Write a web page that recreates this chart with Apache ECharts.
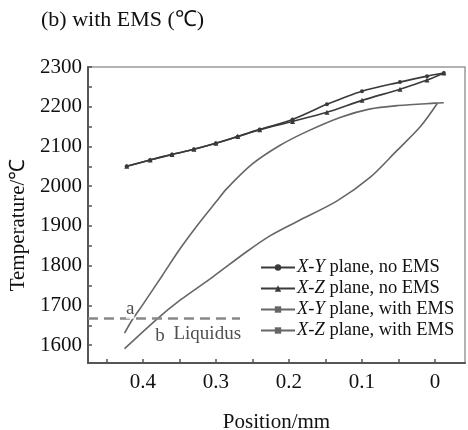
<!DOCTYPE html>
<html><head><meta charset="utf-8">
<script src="https://cdn.jsdelivr.net/npm/echarts@6/dist/echarts.min.js"></script>
<style>html,body{margin:0;padding:0;background:#fff}#c{width:468px;height:430px}</style>
</head><body><div id="c"></div>
<script>
// ---- data (position mm, temperature °C) ----
const xyNoEms = [[0.422,2050],[0.39,2066],[0.36,2080],[0.33,2093],[0.30,2108],[0.27,2125],[0.24,2143],[0.195,2168],[0.148,2206],[0.10,2239],[0.048,2262],[0.011,2277],[-0.012,2285]];
const xzNoEms = [[0.422,2050],[0.39,2066],[0.36,2080],[0.33,2093],[0.30,2108],[0.27,2125],[0.24,2142],[0.195,2163],[0.148,2186],[0.10,2216],[0.048,2244],[0.011,2267],[-0.012,2285]];
const xyEms = [[0.425,1630],[0.414,1665],[0.40,1702],[0.373,1776],[0.35,1840],[0.326,1900],[0.30,1960],[0.285,1994],[0.25,2056],[0.212,2103],[0.175,2138],[0.13,2173],[0.09,2194],[0.05,2203],[0.0,2209],[-0.012,2210]];
const xzEms = [[0.425,1591],[0.381,1665],[0.349,1713],[0.304,1772],[0.258,1835],[0.226,1875],[0.19,1910],[0.134,1963],[0.089,2022],[0.052,2090],[0.02,2150],[-0.003,2208]];
const liquidus = 1667;
const liquidusSpan = [0.475, 0.267];
const xTickLabels = [0, 0.1, 0.2, 0.3, 0.4];
const xTicks = [-0.05, 0, 0.05, 0.1, 0.15, 0.2, 0.25, 0.3, 0.35, 0.4, 0.45];
const yTickLabels = [1600, 1700, 1800, 1900, 2000, 2100, 2200, 2300];
const yTicks = [1600,1650,1700,1750,1800,1850,1900,1950,2000,2050,2100,2150,2200,2250,2300];
const seriesNames = ['X-Y plane, no EMS','X-Z plane, no EMS','X-Y plane, with EMS','X-Z plane, with EMS'];
const notes = [{text:'a', pos:[0.423,1690]}, {text:'b', pos:[0.383,1622]}, {text:'Liquidus', pos:[0.358,1627]}];

const FONT = '"Liberation Serif","Times New Roman",serif';
const chart = echarts.init(document.getElementById('c'));
const dark = '#3a3a3a', gray = '#666';
function lineSeries(name, data, color, symbol, size, show) {
  return { name, type:'line', data, smooth:0.3, symbol, symbolSize:size, showSymbol:show,
    lineStyle:{color, width:1.6}, itemStyle:{color}, z:3 };
}
chart.setOption({
  animation:false,
  title:{ text:'(b) with EMS (℃)', left:36, top:4, textStyle:{fontFamily:FONT, fontSize:22, fontWeight:'normal', color:'#111'} },
  grid:{ left:88, right:3, top:67, bottom:67, outerBoundsMode:'none', show:true, borderColor:'#999', borderWidth:1.5 },
  legend:{ orient:'vertical', left:255, top:253, itemGap:2, itemWidth:34, itemHeight:8,
    data:seriesNames,
    formatter:n=>{ const i=n.indexOf(' '); return '{i|'+n.slice(0,i)+'}'+n.slice(i); },
    textStyle:{fontFamily:FONT, fontSize:18.5, color:'#111', padding:[0,0,0,-3],
      rich:{ i:{fontFamily:FONT, fontSize:18.5, fontStyle:'italic', color:'#111'} } } },
  xAxis:{ type:'value', inverse:true, min:-0.041, max:0.475,
    axisLine:{onZero:false, lineStyle:{color:'#555', width:2}},
    axisTick:{show:true, inside:true, length:4, customValues:xTicks, lineStyle:{color:'#555', width:1.5}},
    axisLabel:{customValues:xTickLabels, fontFamily:FONT, fontSize:21, color:'#111', margin:9},
    splitLine:{show:false},
    name:'Position/mm', nameLocation:'middle', nameGap:49,
    nameTextStyle:{fontFamily:FONT, fontSize:21, color:'#111'} },
  yAxis:{ type:'value', min:1555, max:2300, position:'left',
    axisLine:{show:true, onZero:false, lineStyle:{color:'#555', width:2}},
    axisTick:{show:true, inside:true, length:4, customValues:yTicks, lineStyle:{color:'#555', width:1.5}},
    axisLabel:{customValues:yTickLabels, formatter:v=>String(v), fontFamily:FONT, fontSize:21, color:'#111', margin:6},
    splitLine:{show:false},
    name:'Temperature/℃', nameLocation:'middle', nameGap:56, nameRotate:90,
    nameTextStyle:{fontFamily:FONT, fontSize:21, color:'#111', padding:[0,0,0,-20]} },
  series:[
    lineSeries(seriesNames[0], xyNoEms, dark, 'circle', 4, true),
    lineSeries(seriesNames[1], xzNoEms, dark, 'triangle', 5, true),
    Object.assign(lineSeries(seriesNames[2], xyEms, gray, 'rect', [2,8], false), {
      markLine:{ silent:true, symbol:'none', label:{show:false},
        lineStyle:{color:'#888', type:[10,6], width:2.5},
        data:[[{coord:[liquidusSpan[0], liquidus]},{coord:[liquidusSpan[1], liquidus]}]] } }),
    lineSeries(seriesNames[3], xzEms, gray, 'rect', [2,8], false),
    { type:'scatter', data:notes.map(n=>({value:n.pos, name:n.text})), symbolSize:0, silent:true, z:5,
      label:{show:true, position:'right', distance:0, formatter:p=>p.name,
        fontFamily:FONT, fontSize:19, color:'#222', backgroundColor:'#fff'} }
  ]
});
</script></body></html>
